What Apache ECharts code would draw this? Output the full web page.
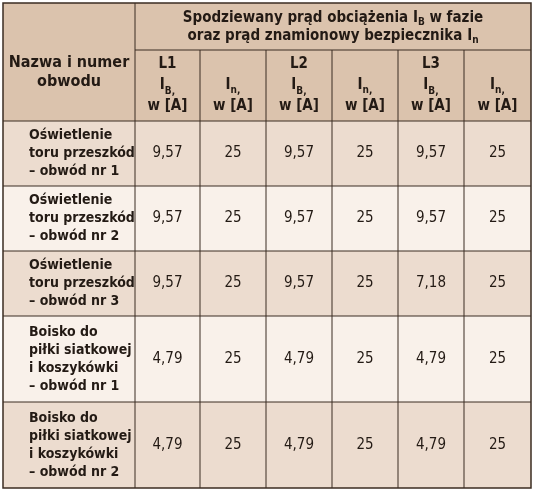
<!DOCTYPE html>
<html><head><meta charset="utf-8">
<script src="https://cdn.jsdelivr.net/npm/echarts@6/dist/echarts.min.js"></script>
<style>html,body{margin:0;background:#fff}#c{width:534px;height:494px}</style>
</head><body><div id="c"></div>
<script>
// table content
const rowNames = [
  'Oświetlenie\ntoru przeszkód\n– obwód nr 1',
  'Oświetlenie\ntoru przeszkód\n– obwód nr 2',
  'Oświetlenie\ntoru przeszkód\n– obwód nr 3',
  'Boisko do\npiłki siatkowej\ni koszykówki\n– obwód nr 1',
  'Boisko do\npiłki siatkowej\ni koszykówki\n– obwód nr 2'
];
const L1_IB = ['9,57', '9,57', '9,57', '4,79', '4,79'];
const L1_In = ['25', '25', '25', '25', '25'];
const L2_IB = ['9,57', '9,57', '9,57', '4,79', '4,79'];
const L2_In = ['25', '25', '25', '25', '25'];
const L3_IB = ['9,57', '9,57', '7,18', '4,79', '4,79'];
const L3_In = ['25', '25', '25', '25', '25'];
const phases = ['L1', 'L2', 'L3'];

// layout
const colX = [3, 135, 200, 266, 332, 398, 464, 531];
const rowY = [121, 186, 251, 316, 402, 488];
const headTop = 3, headMid = 50;
const font = '"Liberation Sans Narrow", "DejaVu Sans Condensed", sans-serif';
const headBg = '#dbc3ad', oddBg = '#ecdccf', evenBg = '#f9f1ea', line = '#3b2c22';

const els = [];
const rect = (x1, y1, x2, y2, fill) => els.push({type: 'rect', shape: {x: x1, y: y1, width: x2 - x1, height: y2 - y1}, style: {fill: fill}, silent: true});
const text = (x, y, t, opts) => els.push({type: 'text', x: x, y: y, style: Object.assign({text: t, fill: '#231a14', font: 'bold 14px ' + font, align: 'center', verticalAlign: 'middle', lineHeight: 17}, opts || {})});
const rich = {s: {font: 'bold 10px ' + font, fill: '#231a14', verticalAlign: 'bottom'}, n: {font: 'bold 15px ' + font, fill: '#231a14'}};

rect(colX[0], headTop, colX[7], rowY[0], headBg);
for (let r = 0; r < rowNames.length; r++) rect(colX[0], rowY[r], colX[7], rowY[r + 1], r % 2 ? evenBg : oddBg);

text((colX[0] + colX[1]) / 2, (headTop + rowY[0]) / 2 + 10, 'Nazwa i numer\nobwodu', {lineHeight: 19, font: 'bold 16px ' + font});
els.push({type: 'text', x: (colX[1] + colX[7]) / 2, y: (headTop + headMid) / 2 + 1,
  style: {text: '{n|Spodziewany prąd obciążenia I}{s|B}{n| w fazie}\n{n|oraz prąd znamionowy bezpiecznika I}{s|n}', rich: rich, align: 'center', verticalAlign: 'middle', lineHeight: 18}});
for (let p = 0; p < 3; p++) {
  const c = 1 + p * 2;
  els.push({type: 'text', x: (colX[c] + colX[c + 1]) / 2, y: (headMid + rowY[0]) / 2,
    style: {text: '{n|' + phases[p] + '}\n{n|I}{s|B,}\n{n|w [A]}', rich: rich, align: 'center', verticalAlign: 'middle', lineHeight: 21}});
  els.push({type: 'text', x: (colX[c + 1] + colX[c + 2]) / 2, y: (headMid + rowY[0]) / 2 + 10,
    style: {text: '{n|I}{s|n,}\n{n|w [A]}', rich: rich, align: 'center', verticalAlign: 'middle', lineHeight: 21}});
}

const cols = [L1_IB, L1_In, L2_IB, L2_In, L3_IB, L3_In];
for (let r = 0; r < rowNames.length; r++) {
  const cy = (rowY[r] + rowY[r + 1]) / 2;
  text(colX[0] + 26, cy, rowNames[r], {align: 'left', font: 'bold 14px ' + font, lineHeight: 18});
  cols.forEach((col, i) => text((colX[i + 1] + colX[i + 2]) / 2, cy, col[r], {font: '15px ' + font}));
}

// grid lines
const ln = (x1, y1, x2, y2, w) => els.push({type: 'line', shape: {x1: x1, y1: y1, x2: x2, y2: y2}, style: {stroke: line, lineWidth: w || 1}, silent: true});
rowY.slice(0, -1).forEach(y => ln(colX[0], y, colX[7], y));
ln(colX[1], headMid, colX[7], headMid);
colX.slice(1, -1).forEach((x, i) => ln(x, i === 0 ? headTop : headMid, x, rowY[rowY.length - 1]));
els.push({type: 'rect', shape: {x: colX[0], y: headTop, width: colX[7] - colX[0], height: rowY[rowY.length - 1] - headTop}, style: {fill: null, stroke: line, lineWidth: 1.5}, silent: true});

const chart = echarts.init(document.getElementById('c'));
chart.setOption({animation: false, graphic: {elements: els}});
</script></body></html>
